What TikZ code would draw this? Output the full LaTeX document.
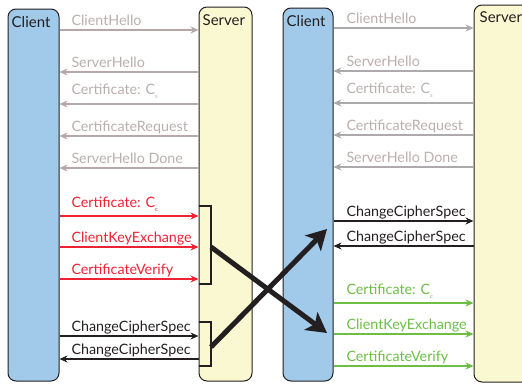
\documentclass[tikz,border=0pt]{standalone}
\usepackage{fontspec}
\setmainfont{Lato}
\usetikzlibrary{arrows.meta}
\definecolor{clientblue}{RGB}{160,201,234}
\definecolor{serveryellow}{RGB}{250,248,208}
\definecolor{linegray}{RGB}{182,168,168}
\definecolor{labelgray}{RGB}{186,174,174}
\definecolor{rightgray}{RGB}{172,170,172}
\definecolor{msgred}{RGB}{238,34,51}
\definecolor{msggreen}{RGB}{109,190,69}
\definecolor{ink}{RGB}{35,31,32}
\newcommand\csub[1]{\raisebox{-4pt}{\fontsize{6}{6}\selectfont #1}}
\tikzset{
  party/.style={draw=ink, line width=1pt, rounded corners=8pt, inner sep=0pt},
  partyname/.style={anchor=base west, inner sep=0pt, font=\fontsize{15}{17}\selectfont, text=ink},
  msglabel/.style={anchor=base west, inner sep=0pt, xshift=11pt, yshift=5pt, font=\fontsize{14.3}{16}\selectfont},
  msg/.style={line width=2pt},
  bracket/.style={draw=ink, line width=2.5pt},
  swap/.style={draw=ink, line width=5pt, -{Stealth[length=20pt,width=22pt,inset=5pt]}},
  >={Stealth[length=8pt,width=7pt]}
}
\begin{document}
\begin{tikzpicture}[x=1pt,y=-1pt]
\clip (0,0) rectangle (522,383);
% left half: client, server
\node[party, fill=clientblue, minimum width=51pt, minimum height=372pt] (client1) at (33.5,195) {};
\node[party, fill=serveryellow, minimum width=53pt, minimum height=374pt] (server1) at (225.5,194) {};
\node[partyname] (cname1) at ([shift={(4,19)}]client1.north west) {Client};
\node[partyname] (sname1) at ([shift={(4,19)}]server1.north west) {Server};
% right half: client, server
\node[party, fill=clientblue, minimum width=50pt, minimum height=373pt] (client2) at (308,194.5) {};
\node[party, fill=serveryellow, minimum width=86pt, minimum height=377pt] (server2) at (517,193.5) {};
\node[partyname] (cname2) at ([shift={(4,19)}]client2.north west) {Client};
\node[partyname] (sname2) at ([shift={(6,18)}]server2.north west) {Server};

% messages, left
\draw[msg, linegray, ->] (client1.east |- 0,30) -- (server1.west |- 0,30) node[msglabel, at start, text=labelgray] {ClientHello};
\draw[msg, linegray, <-] (client1.east |- 0,72) -- (server1.west |- 0,72) node[msglabel, at start, text=labelgray] {ServerHello};
\draw[msg, linegray, <-] (client1.east |- 0,104) -- (server1.west |- 0,104) node[msglabel, at start, yshift=5pt, text=labelgray] {Certificate: C\csub{s}};
\draw[msg, linegray, <-] (client1.east |- 0,136) -- (server1.west |- 0,136) node[msglabel, at start, text=labelgray] {CertificateRequest};
\draw[msg, linegray, <-] (client1.east |- 0,168) -- (server1.west |- 0,168) node[msglabel, at start, text=labelgray] {ServerHello Done};
\draw[msg, msgred, ->] (client1.east |- 0,216) -- (server1.west |- 0,216) node[msglabel, at start, yshift=4pt] {Certificate: C\csub{c}};
\draw[msg, msgred, ->] (client1.east |- 0,247) -- (server1.west |- 0,247) node[msglabel, at start] {ClientKeyExchange};
\draw[msg, msgred, ->] (client1.east |- 0,279) -- (server1.west |- 0,279) node[msglabel, at start] {CertificateVerify};
\draw[msg, ink, ->] (client1.east |- 0,336) -- (server1.west |- 0,336) node[msglabel, at start] {ChangeCipherSpec};
\draw[msg, ink, <-] (client1.east |- 0,359) -- (server1.west |- 0,359) node[msglabel, at start] {ChangeCipherSpec};

% messages, right
\draw[msg, rightgray, ->] (client2.east |- 0,28) -- (server2.west |- 0,28) node[msglabel, at start, xshift=1pt, text=labelgray] {ClientHello};
\draw[msg, rightgray, <-] (client2.east |- 0,71) -- (server2.west |- 0,71) node[msglabel, at start, xshift=1pt, text=labelgray] {ServerHello};
\draw[msg, rightgray, <-] (client2.east |- 0,103) -- (server2.west |- 0,103) node[msglabel, at start, xshift=1pt, yshift=5pt, text=labelgray] {Certificate: C\csub{s}};
\draw[msg, rightgray, <-] (client2.east |- 0,135) -- (server2.west |- 0,135) node[msglabel, at start, xshift=1pt, text=labelgray] {CertificateRequest};
\draw[msg, rightgray, <-] (client2.east |- 0,167) -- (server2.west |- 0,167) node[msglabel, at start, xshift=1pt, text=labelgray] {ServerHello Done};
\draw[msg, ink, ->] (client2.east |- 0,221) -- (server2.west |- 0,221) node[msglabel, at start, xshift=1pt] {ChangeCipherSpec};
\draw[msg, ink, <-] (client2.east |- 0,246) -- (server2.west |- 0,246) node[msglabel, at start, xshift=1pt] {ChangeCipherSpec};
\draw[msg, msggreen, ->] (client2.east |- 0,303) -- (server2.west |- 0,303) node[msglabel, at start, xshift=1pt, yshift=4pt] {Certificate: C\csub{c}};
\draw[msg, msggreen, ->] (client2.east |- 0,334) -- (server2.west |- 0,334) node[msglabel, at start, xshift=1pt] {ClientKeyExchange};
\draw[msg, msggreen, ->] (client2.east |- 0,366) -- (server2.west |- 0,366) node[msglabel, at start, xshift=1pt] {CertificateVerify};

% brackets and the swap
\draw[bracket] (server1.west |- 0,206) -| (211,284) -- (server1.west |- 0,284);
\draw[bracket] (server1.west |- 0,322) -| (211,366) -- (server1.west |- 0,366);
\coordinate (from1) at (211,247);
\coordinate (from2) at (211,347);
\coordinate (to1) at (327,333);
\coordinate (to2) at (327,229);
\draw[swap] (from1) -- (to1);
\draw[swap] (from2) -- (to2);
\end{tikzpicture}
\end{document}
